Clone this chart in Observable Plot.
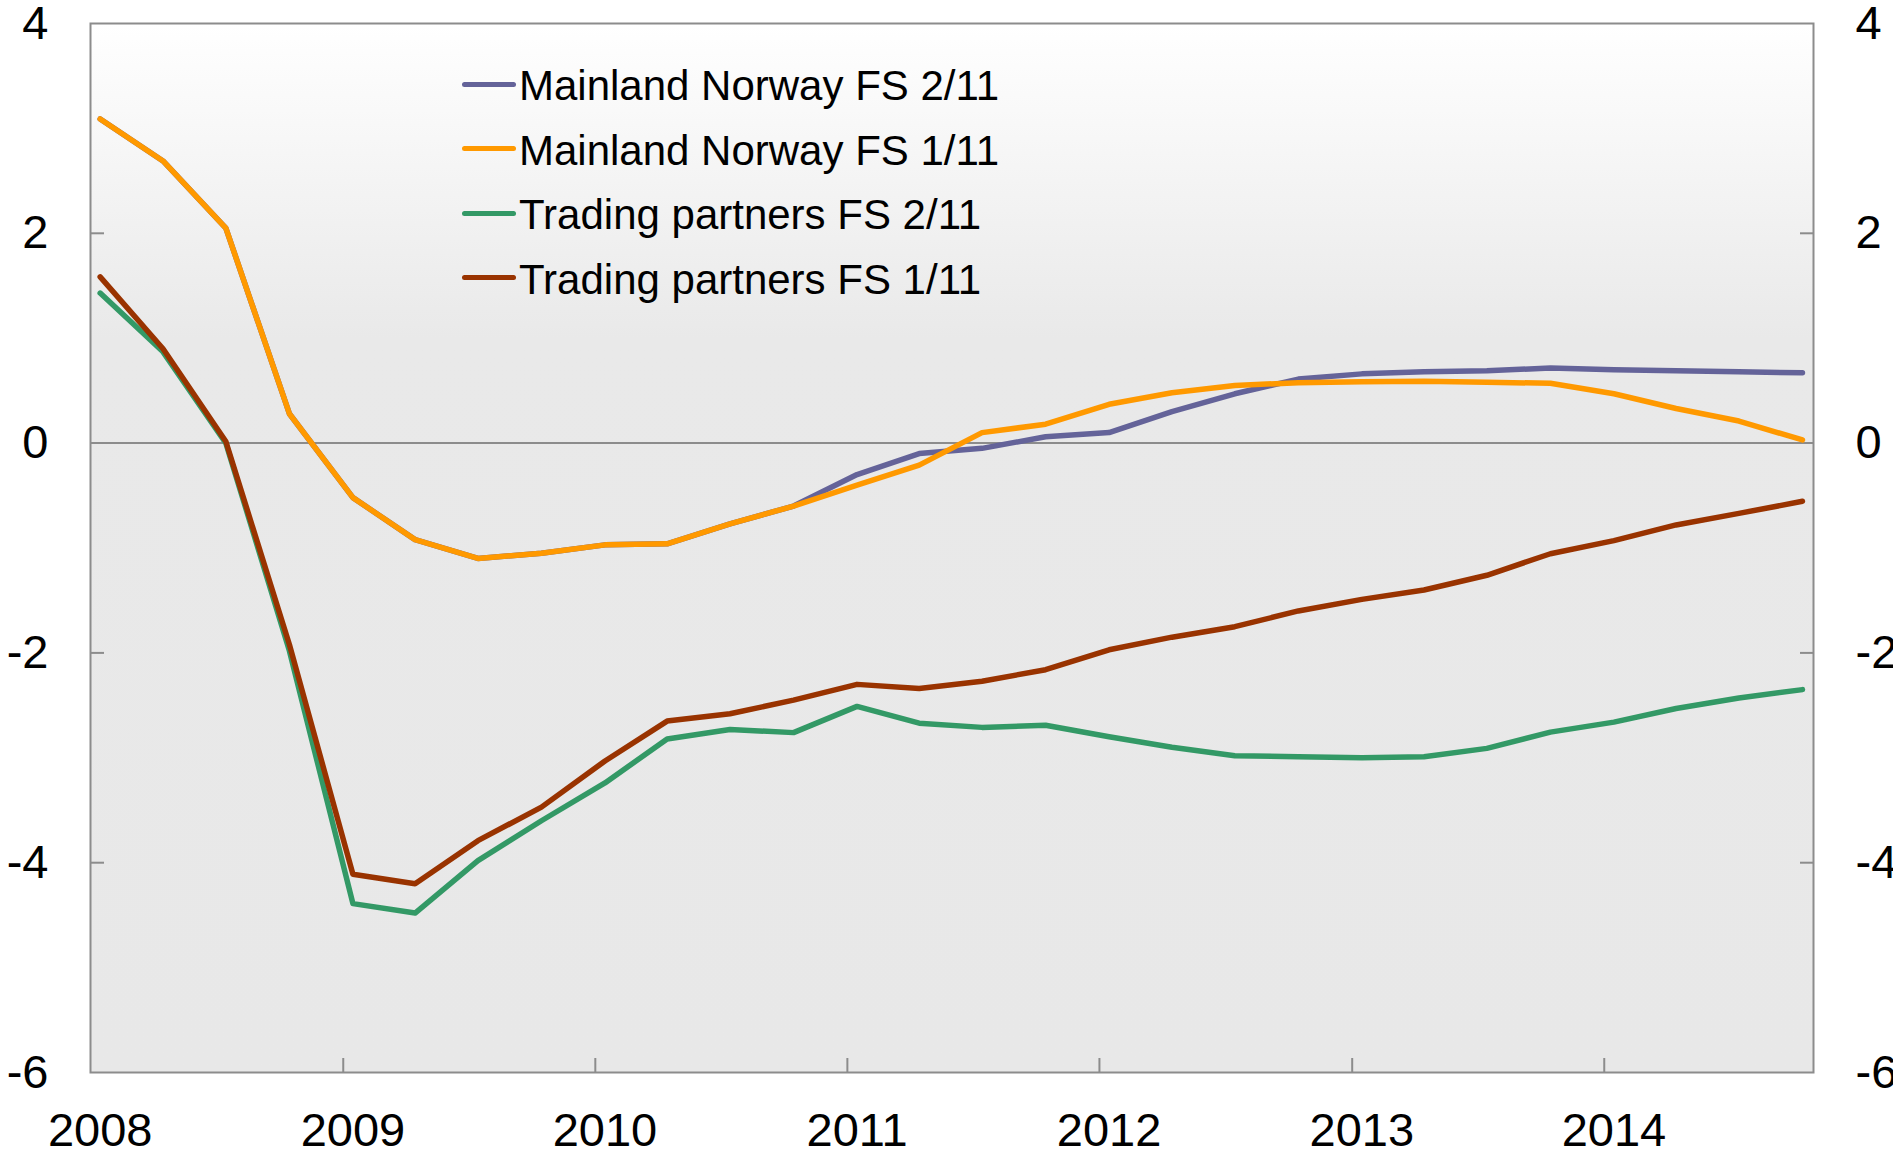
<!DOCTYPE html>
<html>
<head>
<meta charset="utf-8">
<script src="https://cdn.jsdelivr.net/npm/d3@7"></script>
<script src="https://cdn.jsdelivr.net/npm/@observablehq/plot@0.6"></script>
<style>
  html, body { margin: 0; padding: 0; background: #ffffff; }
  #wrap { position: relative; width: 1893px; height: 1153px; overflow: hidden; font-family: "Liberation Sans", Arial, sans-serif; }
  #legend { position: absolute; left: 462px; top: 54px; }
  .row { display: flex; align-items: center; height: 64.5px; }
  .sw { width: 54px; height: 5px; border-radius: 2.5px; transform: translateY(-2px); }
  .lab { font-size: 42px; color: #000; margin-left: 3px; white-space: nowrap; }
</style>
</head>
<body>
<div id="wrap"><div id="legend"></div></div>
<script>
// Quarterly observations, 2008 Q1 - 2014 Q4
const quarters = [
  "2008Q1","2008Q2","2008Q3","2008Q4","2009Q1","2009Q2","2009Q3","2009Q4",
  "2010Q1","2010Q2","2010Q3","2010Q4","2011Q1","2011Q2","2011Q3","2011Q4",
  "2012Q1","2012Q2","2012Q3","2012Q4","2013Q1","2013Q2","2013Q3","2013Q4",
  "2014Q1","2014Q2","2014Q3","2014Q4"
];

const seriesNames = [
  "Mainland Norway FS 2/11",
  "Mainland Norway FS 1/11",
  "Trading partners FS 2/11",
  "Trading partners FS 1/11"
];
const seriesColors = ["#646399", "#ff9900", "#339966", "#993300"];

const mainlandFS211 = [3.09, 2.69, 2.05, 0.28, -0.52, -0.92, -1.10, -1.05, -0.97, -0.96, -0.77, -0.60,
  -0.30, -0.10, -0.05, 0.06, 0.10, 0.30, 0.47, 0.61, 0.66, 0.68, 0.69, 0.715, 0.70, 0.69, 0.68, 0.67];
const mainlandFS111 = [3.09, 2.69, 2.05, 0.28, -0.52, -0.92, -1.10, -1.05, -0.97, -0.96, -0.77, -0.60,
  -0.40, -0.21, 0.10, 0.18, 0.37, 0.48, 0.55, 0.575, 0.585, 0.59, 0.58, 0.57, 0.47, 0.33, 0.21, 0.03];
const tradingFS211 = [1.43, 0.87, 0.00, -1.98, -4.39, -4.48, -3.98, -3.60, -3.24, -2.82, -2.73, -2.76,
  -2.51, -2.67, -2.71, -2.69, -2.80, -2.90, -2.98, -2.99, -3.00, -2.99, -2.91, -2.755, -2.66, -2.53, -2.43, -2.35];
const tradingFS111 = [1.585, 0.90, 0.015, -1.92, -4.11, -4.20, -3.79, -3.47, -3.03, -2.65, -2.58, -2.45,
  -2.30, -2.34, -2.27, -2.16, -1.97, -1.85, -1.75, -1.60, -1.49, -1.40, -1.26, -1.055, -0.93, -0.78, -0.67, -0.555];

const yTicks = [-6, -4, -2, 0, 2, 4];
const yearLabels = [2008, 2009, 2010, 2011, 2012, 2013, 2014];

// quarter label -> date (mid first month of the quarter)
function qDate(q) {
  const y = +q.slice(0, 4), k = +q.slice(5);
  return new Date(Date.UTC(y, (k - 1) * 3, 15));
}

const seriesValues = [mainlandFS211, mainlandFS111, tradingFS211, tradingFS111];
const rows = [];
seriesNames.forEach((name, s) => {
  seriesValues[s].forEach((v, i) => rows.push({series: name, date: qDate(quarters[i]), value: v}));
});

const yearTickDates = yearLabels.slice(1).map(y => new Date(Date.UTC(y, 0, 1)));
const yearLabelDates = yearLabels.map(y => new Date(Date.UTC(y, 0, 15)));

const axisColor = "#8c8c8c";
const chart = Plot.plot({
  width: 1893,
  height: 1153,
  marginLeft: 90,
  marginRight: 80,
  marginTop: 23,
  marginBottom: 81,
  style: {background: "transparent", overflow: "visible", fontFamily: "'Liberation Sans', Arial, sans-serif"},
  x: {type: "utc", domain: [new Date(Date.UTC(2008, 0, 1)), new Date(Date.UTC(2014, 9, 31))], label: null},
  y: {domain: [-6, 4], label: null},
  color: {domain: seriesNames, range: seriesColors},
  marks: [
    Plot.frame({fill: "url(#bgGrad)", stroke: "none"}),
    Plot.ruleY([0], {stroke: axisColor, strokeWidth: 2}),
    Plot.line(rows, {x: "date", y: "value", z: "series", stroke: "series", strokeWidth: 5.5,
      strokeLinejoin: "round", strokeLinecap: "round"}),
    Plot.frame({stroke: axisColor, strokeWidth: 2}),
    Plot.axisX({ticks: yearTickDates, tickSize: -14, fill: "none", stroke: axisColor, strokeWidth: 2, label: null}),
    Plot.axisX({ticks: yearLabelDates, tickSize: 0, tickPadding: 40, tickFormat: d3.utcFormat("%Y"),
      fontSize: 47, fill: "#000", label: null}),
    Plot.axisY({anchor: "left", ticks: [-4, -2, 2], tickSize: -14, fill: "none", stroke: axisColor, strokeWidth: 2, label: null}),
    Plot.axisY({anchor: "right", ticks: [-4, -2, 2], tickSize: -14, fill: "none", stroke: axisColor, strokeWidth: 2, label: null}),
    Plot.axisY({anchor: "left", ticks: yTicks, tickSize: 0, tickPadding: 42, tickFormat: d => String(d),
      fontSize: 47, fill: "#000", label: null}),
    Plot.axisY({anchor: "right", ticks: yTicks, tickSize: 0, tickPadding: 42, tickFormat: d => String(d),
      fontSize: 47, fill: "#000", label: null})
  ]
});

const ns = "http://www.w3.org/2000/svg";
const defs = document.createElementNS(ns, "defs");
defs.innerHTML = '<linearGradient id="bgGrad" x1="0" y1="0" x2="0" y2="1">' +
  '<stop offset="0" stop-color="#ffffff"/><stop offset="0.3" stop-color="#e9e9e9"/>' +
  '<stop offset="1" stop-color="#e8e8e8"/></linearGradient>';
chart.prepend(defs);

const wrap = document.getElementById("wrap");
wrap.insertBefore(chart, wrap.firstChild);

const legend = document.getElementById("legend");
seriesNames.forEach((name, i) => {
  const row = document.createElement("div");
  row.className = "row";
  const sw = document.createElement("span");
  sw.className = "sw";
  sw.style.background = seriesColors[i];
  const lab = document.createElement("span");
  lab.className = "lab";
  lab.textContent = name;
  row.appendChild(sw);
  row.appendChild(lab);
  legend.appendChild(row);
});
</script>
</body>
</html>
